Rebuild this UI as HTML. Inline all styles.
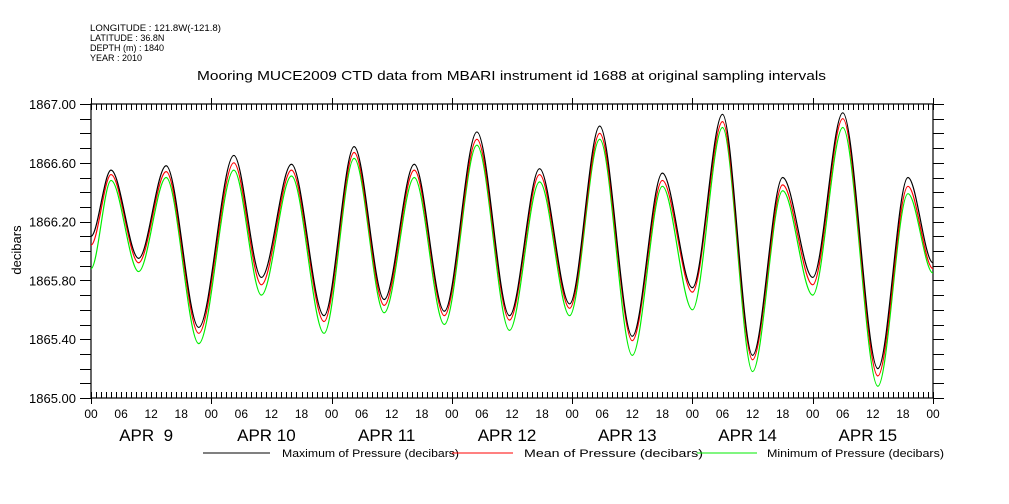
<!DOCTYPE html>
<html><head><meta charset="utf-8"><style>
html,body{margin:0;padding:0;background:#fff;}
svg{display:block;font-family:"Liberation Sans",sans-serif;}
</style></head><body>
<svg id="chart" width="1009" height="504" viewBox="0 0 1009 504" xmlns="http://www.w3.org/2000/svg">
<g font-size="9" fill="#000">
<text x="90" y="31" textLength="131" lengthAdjust="spacingAndGlyphs">LONGITUDE : 121.8W(-121.8)</text>
<text x="90" y="41">LATITUDE : 36.8N</text>
<text x="90" y="51">DEPTH (m) : 1840</text>
<text x="90" y="61">YEAR : 2010</text>
</g>
<text x="197" y="80" font-size="13" textLength="629" lengthAdjust="spacingAndGlyphs">Mooring MUCE2009 CTD data from MBARI instrument id 1688 at original sampling intervals</text>
<text transform="translate(21,250) rotate(-90)" font-size="13" text-anchor="middle">decibars</text>
<g id="axes"></g>
<g id="series"></g>
<g font-size="11">
<g><line x1="203" y1="453" x2="270" y2="453" stroke="#000"/><text x="282" y="457" textLength="177" lengthAdjust="spacingAndGlyphs">Maximum of Pressure (decibars)</text></g>
<g><line x1="452" y1="453" x2="513" y2="453" stroke="#f00"/><text x="524" y="457" textLength="179" lengthAdjust="spacingAndGlyphs">Mean of Pressure (decibars)</text></g>
<g><line x1="697" y1="453" x2="757" y2="453" stroke="#0e0"/><text x="767" y="457" textLength="177" lengthAdjust="spacingAndGlyphs">Minimum of Pressure (decibars)</text></g>
</g>
</svg>
<script>
const hours = [0,4,9.5,15,21.5,28.5,34,40,46.5,52.5,58.5,64.5,70.5,77,83.5,89.5,95.5,101.5,108,114,120,126,132,138,144,150,157,163,168];
const meanVals = [1866.04,1866.52,1865.92,1866.54,1865.44,1866.60,1865.77,1866.55,1865.52,1866.67,1865.63,1866.55,1865.56,1866.76,1865.53,1866.52,1865.61,1866.80,1865.39,1866.48,1865.72,1866.88,1865.26,1866.45,1865.77,1866.90,1865.15,1866.44,1865.88];
const maxVals = [1866.10,1866.55,1865.95,1866.58,1865.48,1866.65,1865.82,1866.59,1865.56,1866.71,1865.67,1866.59,1865.59,1866.81,1865.56,1866.56,1865.64,1866.85,1865.42,1866.53,1865.75,1866.93,1865.29,1866.50,1865.82,1866.94,1865.20,1866.50,1865.92];
const minVals = [1865.88,1866.48,1865.86,1866.50,1865.37,1866.55,1865.70,1866.51,1865.44,1866.63,1865.58,1866.50,1865.50,1866.72,1865.46,1866.47,1865.56,1866.76,1865.29,1866.44,1865.60,1866.84,1865.18,1866.41,1865.70,1866.84,1865.08,1866.39,1865.85];
const yTickLabels = ["1865.00","1865.40","1865.80","1866.20","1866.60","1867.00"];
const dayLabels = ["APR  9","APR 10","APR 11","APR 12","APR 13","APR 14","APR 15"];
const hourLabels = ["00","06","12","18"];

const L=91,R=933,T=104,B=398,H0=0,H1=168,V0=1865,V1=1867;
const NS="http://www.w3.org/2000/svg";
function xs(h){return L+(h-H0)/(H1-H0)*(R-L);}
function ys(v){return B-(v-V0)/(V1-V0)*(B-T);}
function mk(tag,attrs,parent){const e=document.createElementNS(NS,tag);for(const k in attrs)e.setAttribute(k,attrs[k]);parent.appendChild(e);return e;}
const ax=document.getElementById('axes');
let f=mk('rect',{x:L,y:T,width:R-L,height:B-T,fill:'none',stroke:'#000','stroke-width':1.2},ax);


let d='';
for(let h=0;h<=168;h++){const x=Math.round(xs(h))+0.5;const big=h%24===0;
 d+=`M${x} ${B}V${B-6}M${x} ${T}V${T+6}`; if(big){d+=`M${x} ${B}V${B+6}M${x} ${T}V${T-6}`;}}
for(let i=0;i<=20;i++){const y=Math.round(ys(V0+i*0.1))+0.5;d+=`M${L-11} ${y}H${L}M${R} ${y}H${R+11}`;}
let tk=mk('path',{d:d,stroke:'#000','stroke-width':1,fill:'none'},ax);


yTickLabels.forEach(s=>{const t=mk('text',{x:L-15,y:ys(parseFloat(s))+5,'font-size':13,'text-anchor':'end'},ax);t.textContent=s;
 
 });
for(let h=0;h<=168;h+=6){const t=mk('text',{x:xs(h),y:418,'font-size':12,'text-anchor':'middle'},ax);t.textContent=hourLabels[(h/6)%4];
 
 }
dayLabels.forEach((s,i)=>{const t=mk('text',{x:xs(i*24+11),y:441,'font-size':17,'text-anchor':'middle','xml:space':'preserve'},ax);t.textContent=s;t.style.whiteSpace='pre';
 
 });
function smooth(vals){const p=hours.map((h,i)=>[xs(h),ys(vals[i])]);let s=`M${p[0][0]} ${p[0][1]}`;
 for(let i=0;i<p.length-1;i++){const a=p[i],b=p[i+1],dx=(b[0]-a[0])/3;s+=`C${a[0]+dx} ${a[1]},${b[0]-dx} ${b[1]},${b[0]} ${b[1]}`;}return s;}
const sg=document.getElementById('series');
[[minVals,'#0e0','line-minimum'],[meanVals,'#f00','line-mean'],[maxVals,'#000','line-maximum']].forEach(([v,c,n])=>{
 const p=mk('path',{d:smooth(v),stroke:c,'stroke-width':1.2,fill:'none'},sg);
 
 });
</script>
</body></html>
